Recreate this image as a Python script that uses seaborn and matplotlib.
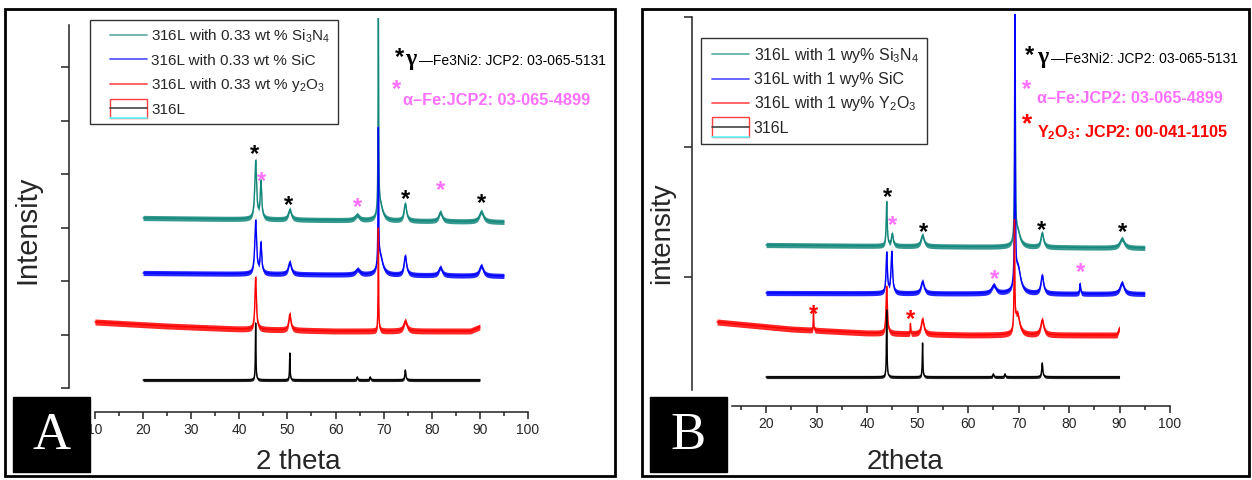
import matplotlib
matplotlib.use("Agg")
import matplotlib.pyplot as plt
import matplotlib.transforms as mtransforms
from matplotlib.legend_handler import HandlerBase, HandlerLine2D
from matplotlib.lines import Line2D
from matplotlib.patches import Rectangle
import numpy as np
import pandas as pd
import seaborn as sns

W, H = 1252, 480

samples = ["Si3N4", "SiC", "Y2O3", "316L"]
colors = ["#13877b", "#0000ff", "#ff0000", "#000000"]
legend_a = ["316L with 0.33 wt % Si$_3$N$_4$", "316L with 0.33 wt % SiC",
            "316L with 0.33 wt % y$_2$O$_3$", "316L"]
legend_b = ["316L with 1 wy% Si$_3$N$_4$", "316L with 1 wy% SiC",
            "316L with 1 wy% Y$_2$O$_3$", "316L"]

# panel A: baseline knots (2theta, offset intensity) and peaks (2theta, height, hwhm)
a_si3n4_base = ([20, 95], [194, 190])
a_sic_base = ([20, 95], [139, 136])
a_y2o3_base = ([10, 25, 40, 60, 88, 90], [90, 86, 83, 81, 81, 85])
a_316l_base = ([20, 90], [32, 32])
a_si3n4_peaks = [(43.4, 58, 0.22), (44.5, 37, 0.18), (50.5, 10, 0.35), (64.5, 5, 0.5),
                 (68.9, 205, 0.07), (69.3, 15, 0.6), (74.5, 17, 0.3), (81.8, 9, 0.4),
                 (90.3, 10, 0.5)]
a_sic_peaks = [(43.4, 53, 0.22), (44.5, 30, 0.18), (50.5, 12, 0.35), (64.6, 5, 0.5),
               (68.9, 135, 0.07), (69.3, 18, 0.6), (74.5, 19, 0.3), (81.8, 8, 0.4),
               (90.3, 10, 0.45)]
a_y2o3_peaks = [(43.4, 52, 0.18), (50.5, 16, 0.25), (68.9, 103, 0.06), (74.5, 10, 0.4)]
a_316l_peaks = [(43.4, 57, 0.07), (50.5, 27, 0.07), (64.5, 3, 0.1), (67.2, 3, 0.1),
                (74.5, 10, 0.12)]

# panel B
b_si3n4_base = ([20, 95], [161, 158])
b_sic_base = ([20, 95], [113, 112])
b_y2o3_base = ([10.3, 25, 40, 60, 89.5, 90], [84, 77, 73, 71, 71, 78])
b_316l_base = ([20, 90], [29, 29])
b_si3n4_peaks = [(43.9, 44, 0.12), (45.0, 12, 0.2), (51.0, 11, 0.35), (69.3, 260, 0.07),
                 (69.8, 15, 0.6), (74.7, 14, 0.3), (90.5, 9, 0.5)]
b_sic_peaks = [(43.9, 40, 0.15), (44.9, 41, 0.18), (51.0, 12, 0.35), (65.1, 8, 0.5),
               (69.3, 300, 0.07), (69.9, 25, 0.6), (74.7, 18, 0.3), (82.2, 10, 0.1),
               (90.5, 11, 0.45)]
b_y2o3_peaks = [(29.4, 20, 0.05), (43.9, 47, 0.15), (48.6, 10, 0.05), (51.0, 15, 0.3),
                (69.2, 107, 0.08), (69.8, 20, 0.5), (74.7, 15, 0.35)]
b_316l_peaks = [(43.9, 67, 0.07), (51.0, 34, 0.07), (65.0, 3, 0.1), (67.3, 3, 0.1),
                (74.7, 14, 0.12)]

noise_band = [2.6, 2.6, 3.0, 1.6]

# phase markers
a_star_x = [43.2, 44.6, 50.2, 64.5, 74.5, 81.9, 90.4]
a_star_y = [265, 238, 214, 212, 220, 229, 216]
a_star_c = ["k", "p", "k", "p", "k", "p", "k"]
b_star_x = [44.0, 45.1, 51.1, 74.5, 90.5, 65.3, 82.2, 29.5, 48.7]
b_star_y = [216, 188, 181, 183, 181, 134, 141, 99, 94]
b_star_c = ["k", "p", "k", "k", "k", "p", "p", "r", "r"]
star_colors = {"k": "#000000", "p": "#ff70ff", "r": "#ff0000"}

sns.set_style("ticks")
plt.rcParams["font.family"] = ["Liberation Sans", "DejaVu Sans"]
plt.rcParams["mathtext.fontset"] = "custom"
plt.rcParams["mathtext.rm"] = "Liberation Sans"
plt.rcParams["mathtext.bf"] = "Liberation Sans:bold"


def pattern(x, base, peaks):
    y = np.interp(x, base[0], base[1])
    for c, h, w in peaks:
        y = y + h / (1 + ((x - c) / w) ** 2)
    return y


def build(bases, peakss):
    frames = []
    for name, base, peaks in zip(samples, bases, peakss):
        x = np.arange(base[0][0], base[0][-1] + 0.001, 0.02)
        frames.append(pd.DataFrame({"two_theta": x, "intensity": pattern(x, base, peaks),
                                    "sample": name}))
    return pd.concat(frames, ignore_index=True)


class Handler316L(HandlerBase):
    def create_artists(self, legend, orig_handle, xdescent, ydescent, width, height,
                       fontsize, trans):
        cy = (height - ydescent) / 2
        bh = 1.22 * fontsize
        x0 = -xdescent
        box = Rectangle((x0, cy - bh / 2), width, bh, fill=False, edgecolor="#ff4040",
                        lw=1.0, transform=trans)
        mid = Line2D([x0, x0 + width], [cy, cy], color="#444444", lw=1.2, transform=trans)
        low = Line2D([x0, x0 + width], [cy - bh / 2, cy - bh / 2], color="#55ffff",
                     lw=1.2, transform=trans)
        return [box, mid, low]


def fig_rect(fig, x0, y0, x1, y1, **kw):
    r = Rectangle((x0 / W, 1 - y1 / H), (x1 - x0) / W, (y1 - y0) / H,
                  transform=fig.transFigure, **kw)
    fig.add_artist(r)


fig = plt.figure(figsize=(W / 100, H / 100), dpi=100)

panels = [
    dict(px=(69, 528), py=(18, 412), xlim=(10 - 26 / 4.825, 100), ylim=(0, 394),
         xstart=10, ybounds=(24, 387), yticks=[24, 77.5, 131, 184.5, 238, 291.5, 345],
         bases=[a_si3n4_base, a_sic_base, a_y2o3_base, a_316l_base],
         peaks=[a_si3n4_peaks, a_sic_peaks, a_y2o3_peaks, a_316l_peaks],
         legend=legend_a, leg_xy=(90, 20), leg_fs=11, leg_pad=0.8, leg_len=3.2,
         leg_sp=0.55, sx=a_star_x, sy=a_star_y, sc=a_star_c),
    dict(px=(692, 1170), py=(14, 406), xlim=(20 - 74 / 5.05, 100), ylim=(0, 392),
         xstart=13.3, ybounds=(16, 389), yticks=[129, 259, 389],
         bases=[b_si3n4_base, b_sic_base, b_y2o3_base, b_316l_base],
         peaks=[b_si3n4_peaks, b_sic_peaks, b_y2o3_peaks, b_316l_peaks],
         legend=legend_b, leg_xy=(701, 38), leg_fs=11.5, leg_pad=0.16, leg_len=2.5,
         leg_sp=0.45, sx=b_star_x, sy=b_star_y, sc=b_star_c),
]

for p in panels:
    ax = fig.add_axes([p["px"][0] / W, 1 - p["py"][1] / H,
                       (p["px"][1] - p["px"][0]) / W, (p["py"][1] - p["py"][0]) / H])
    df = build(p["bases"], p["peaks"])
    for name, col, band in zip(samples, colors, noise_band):
        sub = df[df["sample"] == name]
        ax.fill_between(sub["two_theta"], sub["intensity"] - band, sub["intensity"] + band,
                        color=col, lw=0, alpha=0.85)
    sns.lineplot(data=df, x="two_theta", y="intensity", hue="sample", hue_order=samples,
                 palette=colors, estimator=None, sort=False, legend=False, lw=1, ax=ax)
    ax.set_xlim(*p["xlim"])
    ax.set_ylim(*p["ylim"])
    ax.set_xlabel("")
    ax.set_ylabel("")
    ax.patch.set_alpha(0)
    for s in ["top", "right"]:
        ax.spines[s].set_visible(False)
    ax.spines["bottom"].set_bounds(p["xstart"], 100)
    ax.spines["left"].set_bounds(*p["ybounds"])
    for s in ["bottom", "left"]:
        ax.spines[s].set_linewidth(1.1)
        ax.spines[s].set_color("#222222")
    ax.set_xticks(list(range(10 if p["xstart"] <= 10 else 20, 101, 10)))
    ax.set_xticks([v + 5 for v in range(10, 100, 10)], minor=True)
    ax.set_yticks(p["yticks"])
    ax.set_yticklabels([])
    ax.tick_params(axis="x", which="major", length=5, width=1.1, labelsize=10, pad=3,
                   color="#222222")
    ax.tick_params(axis="x", which="minor", length=3, width=1.1, color="#222222")
    ax.tick_params(axis="y", length=6, width=1.1, color="#222222")

    handles = [Line2D([], [], color=c, lw=1.3, alpha=0.65) for c in colors[:3]]
    dummy = Rectangle((0, 0), 1, 1)
    handles.append(dummy)
    leg = ax.legend(handles, p["legend"], loc="upper left",
                    bbox_to_anchor=(p["leg_xy"][0] / W, 1 - p["leg_xy"][1] / H),
                    bbox_transform=fig.transFigure, fontsize=p["leg_fs"], frameon=True,
                    fancybox=False, edgecolor="#333333", framealpha=1, borderpad=0.5,
                    borderaxespad=0, handlelength=p["leg_len"], handletextpad=0.3,
                    labelspacing=p["leg_sp"],
                    handler_map={Line2D: HandlerLine2D(xpad=p["leg_pad"]),
                                 dummy: Handler316L(xpad=p["leg_pad"])})
    leg.get_frame().set_linewidth(1.0)

    star_tr = mtransforms.offset_copy(ax.transData, fig=fig, y=-10, units="points")
    for x, y, c in zip(p["sx"], p["sy"], p["sc"]):
        ax.text(x, y, "*", color=star_colors[c], fontsize=17, fontweight="bold",
                ha="center", va="baseline", transform=star_tr)

# phase annotations (top right of each panel)
def ftext(x, y, s, **kw):
    fig.text(x / W, 1 - y / H, s, va="baseline", ha="left", **kw)

for sx, gx, tx, y0 in [(400, 405, 419, 65), (1030, 1037, 1051, 63)]:
    ftext(sx - 5, y0 - 1, "*", fontsize=17, fontweight="bold", color="k")
    ftext(gx, y0, "γ", fontsize=17, fontweight="bold", family="Liberation Serif", color="k")
    ftext(tx, y0, "—Fe3Ni2: JCP2: 03-065-5131", fontsize=10, color="k")
ftext(392, 96, "*", fontsize=17, fontweight="bold", color="#ff70ff")
ftext(403, 105, "α–Fe:JCP2: 03-065-4899", fontsize=11.8, fontweight="bold", color="#ff70ff")
ftext(1022, 96, "*", fontsize=17, fontweight="bold", color="#ff70ff")
ftext(1037, 103, "α–Fe:JCP2: 03-065-4899", fontsize=11.7, fontweight="bold", color="#ff70ff")
ftext(1022, 131, "*", fontsize=19, fontweight="bold", color="#ff0000")
ftext(1037, 137, r"Y$_\mathbf{2}$O$_\mathbf{3}$: JCP2: 00-041-1105", fontsize=11.7,
      fontweight="bold", color="#ff0000")

# axis titles
fig.text(27 / W, 1 - 230 / H, "Intensity", rotation=90, ha="center", va="center", fontsize=21)
fig.text(662 / W, 1 - 233 / H, "intensity", rotation=90, ha="center", va="center", fontsize=20)
fig.text(298 / W, 1 - 462 / H, "2 theta", ha="center", va="center", fontsize=20)
fig.text(905 / W, 1 - 462 / H, "2theta", ha="center", va="center", fontsize=20)

# panel frames and letter tags
fig_rect(fig, 5, 9, 615, 476, fill=False, edgecolor="k", lw=2, zorder=5)
fig_rect(fig, 642, 9, 1249, 476, fill=False, edgecolor="k", lw=2, zorder=5)
for x0, letter in [(13, "A"), (650, "B")]:
    fig_rect(fig, x0, 397, x0 + 77, 472, facecolor="k", edgecolor="k", zorder=10)
    fig.text((x0 + 38.5) / W, 1 - 436 / H, letter, color="white", fontsize=38,
             family="Liberation Serif", ha="center", va="center", zorder=11)

fig.savefig("out.png", dpi=100)
